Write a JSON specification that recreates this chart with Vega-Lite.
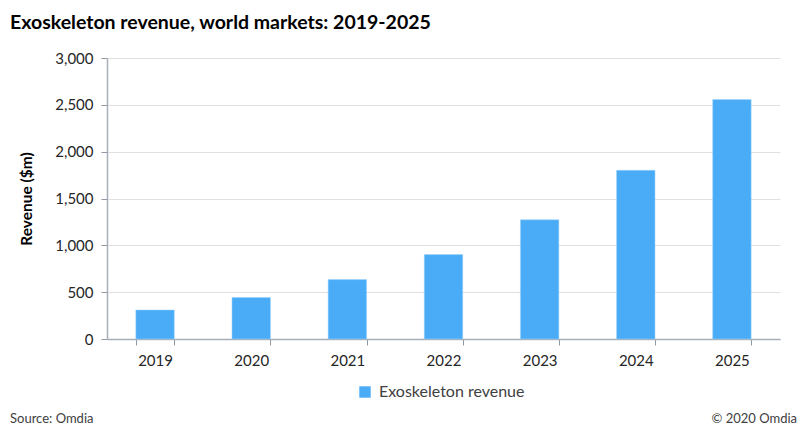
{
  "$schema": "https://vega.github.io/schema/vega-lite/v6.json",
  "autosize": "none",
  "width": 673,
  "height": 281,
  "padding": {"left": 107, "top": 58, "right": 20, "bottom": 92},
  "background": "white",
  "title": {
    "text": "Exoskeleton revenue, world markets: 2019-2025",
    "anchor": "start",
    "frame": "group",
    "dx": -97,
    "offset": 18,
    "font": "Lato",
    "fontSize": 19.5,
    "fontWeight": "bold",
    "color": "#000000"
  },
  "config": {
    "view": {"stroke": null},
    "font": "Lato"
  },
  "data": {
    "values": [
      {"year": "2019", "revenue": 310, "series": "Exoskeleton revenue"},
      {"year": "2020", "revenue": 444, "series": "Exoskeleton revenue"},
      {"year": "2021", "revenue": 634, "series": "Exoskeleton revenue"},
      {"year": "2022", "revenue": 901, "series": "Exoskeleton revenue"},
      {"year": "2023", "revenue": 1273, "series": "Exoskeleton revenue"},
      {"year": "2024", "revenue": 1801, "series": "Exoskeleton revenue"},
      {"year": "2025", "revenue": 2556, "series": "Exoskeleton revenue"}
    ]
  },
  "layer": [
    {
      "mark": {"type": "bar", "stroke": "#9fd3fb", "strokeWidth": 0.5},
      "encoding": {
        "x": {
          "field": "year",
          "type": "ordinal",
          "scale": {"paddingInner": 0.6, "paddingOuter": 0.3},
          "axis": {
            "title": null,
            "labelAngle": 0,
            "labelFontSize": 15,
            "labelColor": "#262626",
            "labelPadding": 8,
            "tickBand": "extent",
            "tickColor": "#8f98a6",
            "tickSize": 6,
            "domainColor": "#a6aeb9",
            "domainWidth": 1.5
          }
        },
        "y": {
          "field": "revenue",
          "type": "quantitative",
          "scale": {"domain": [0, 3000], "nice": false},
          "axis": {
            "title": "Revenue ($m)",
            "titleFontSize": 15.5,
            "titleFontWeight": "bold",
            "titleColor": "#000000",
            "titlePadding": 20,
            "values": [0, 500, 1000, 1500, 2000, 2500, 3000],
            "format": ",d",
            "labelFontSize": 15,
            "labelColor": "#262626",
            "labelPadding": 8,
            "tickColor": "#8f98a6",
            "tickSize": 6,
            "domainColor": "#a6aeb9",
            "domainWidth": 1.5,
            "gridColor": "#e0e0e0",
            "gridWidth": 1
          }
        },
        "color": {
          "field": "series",
          "type": "nominal",
          "scale": {"range": ["#4aacf7"]},
          "legend": {
            "title": null,
            "orient": "none",
            "legendX": 250,
            "legendY": 326,
            "direction": "horizontal",
            "symbolType": "square",
            "symbolSize": 130,
            "symbolStrokeWidth": 0,
            "labelFontSize": 16,
            "labelOffset": 6,
            "labelColor": "#404040"
          }
        }
      }
    },
    {
      "data": {"values": [{"note": "Source: Omdia"}]},
      "mark": {"type": "text", "x": -97, "y": 361, "align": "left", "baseline": "middle", "fontSize": 13, "color": "#404040"},
      "encoding": {"text": {"field": "note"}}
    },
    {
      "data": {"values": [{"note": "© 2020 Omdia"}]},
      "mark": {"type": "text", "x": 690, "y": 361, "align": "right", "baseline": "middle", "fontSize": 13, "color": "#404040"},
      "encoding": {"text": {"field": "note"}}
    }
  ]
}
